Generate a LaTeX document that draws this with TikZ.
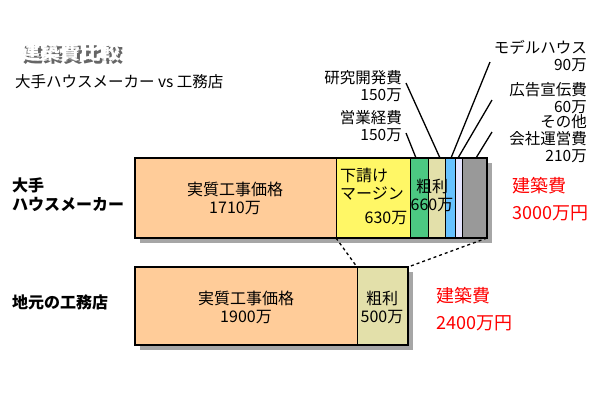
\documentclass[tikz,border=0pt]{standalone}
\usepackage{fontspec}
\setmainfont{Noto Sans CJK JP}
\begin{document}
\begin{tikzpicture}[x=1pt,y=-1pt,
  seg/.style={draw=black,line width=0.8pt},
  shad/.style={fill=black!35},
  lbl/.style={font=\fontsize{16}{18}\selectfont,align=center,inner sep=0},
  rl/.style={font=\fontsize{15.5}{17}\selectfont,align=right,inner sep=0,anchor=east},
  red/.style={font=\fontsize{18}{27}\selectfont,text=red,align=left,inner sep=0,anchor=west},
  lead/.style={line width=1.3pt}]
\useasboundingbox (0,0) rectangle (600,400);
% title
\node[anchor=west,font=\bfseries\fontsize{20}{22}\selectfont,text=black!60] at (20,55) {建築費比較};
\node[anchor=west,font=\bfseries\fontsize{20}{22}\selectfont,text=white] at (17,52) {建築費比較};
\node[anchor=west,font=\fontsize{15.5}{17}\selectfont,inner sep=0] at (15,82) {大手ハウスメーカー vs 工務店};
% shadows
\fill[shad] (140,163) rectangle (492,243);
\fill[shad] (140,272) rectangle (413,350);
% top bar
\draw[seg,fill=orange!40] (135,158) rectangle (336,238);
\draw[seg,fill=yellow!60] (336,158) rectangle (410,238);
\draw[seg,fill=teal!60!green!70] (410,158) rectangle (428,238);
\draw[seg,fill=olive!25] (428,158) rectangle (445,238);
\draw[seg,fill=blue!40!cyan!60] (445,158) rectangle (455,238);
\draw[seg,fill=blue!10] (455,158) rectangle (462,238);
\draw[seg,fill=black!40] (462,158) rectangle (487,238);
\draw[line width=1.2pt] (135,158) rectangle (487,238);
% bottom bar
\draw[seg,fill=orange!40] (135,267) rectangle (357,345);
\draw[seg,fill=olive!25] (357,267) rectangle (408,345);
\draw[line width=1.2pt] (135,267) rectangle (408,345);
\draw[dashed,line width=1.3pt] (336,238) -- (357,267);
\draw[dashed,line width=1.3pt] (487,238) -- (408,267);
% texts in bars
\node[lbl] (a) at (235,198) {実質工事価格\\1710万};
\node[lbl,anchor=west,align=left] (b) at (340,184) {下請け\\マージン};
\node[lbl] (b2) at (386,218) {630万};
\node[lbl] (c) at (432,195) {粗利\\660万};
\node[lbl] (d) at (246,307) {実質工事価格\\1900万};
\node[lbl] (e) at (382,307) {粗利\\500万};
% side labels
\node[font=\bfseries\fontsize{16}{19}\selectfont,align=left,anchor=west,inner sep=0] at (12,195) {大手\\ハウスメーカー};
\node[font=\bfseries\fontsize{16}{19}\selectfont,anchor=west,inner sep=0] at (12,302) {地元の工務店};
\node[red] at (512,199) {建築費\\3000万円};
\node[red] at (436,309) {建築費\\2400万円};
% callouts
\node[rl] at (402,86) {研究開発費\\150万};
\node[rl] at (402,126) {営業経費\\150万};
\node[rl] at (587,56) {モデルハウス\\90万};
\node[rl] at (587,98) {広告宣伝費\\60万};
\node[rl] at (587,139) {その他\\会社運営費\\210万};
\draw[lead] (406,83) -- (440,158);
\draw[lead] (406,133) -- (416,158);
\draw[lead] (490,62) -- (451,158);
\draw[lead] (492,100) -- (458,158);
\draw[lead] (492,132) -- (476,158);
\end{tikzpicture}
\end{document}
